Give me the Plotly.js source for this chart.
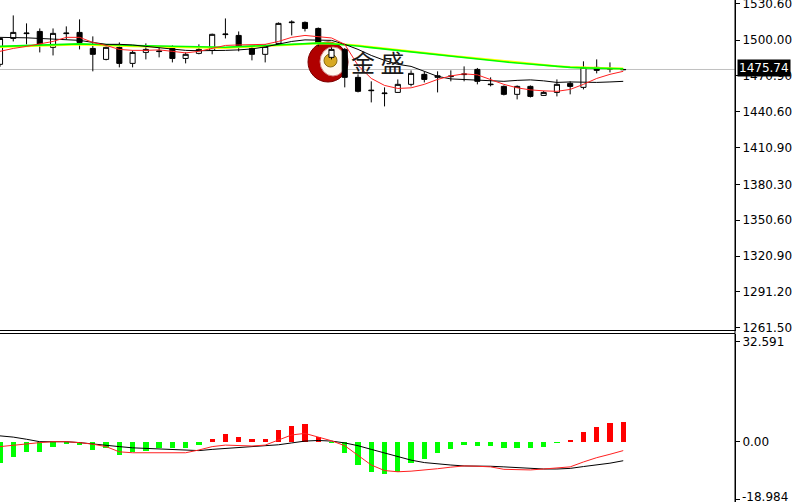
<!DOCTYPE html>
<html><head><meta charset="utf-8">
<script src="https://cdn.plot.ly/plotly-3.0.1.min.js"></script>
<style>html,body{margin:0;padding:0;background:#fff}#chart{width:795px;height:502px}</style>
</head><body><div id="chart"></div>
<script>
// ---- candles (bar 0 .. bar 47) ----
const openP  = [1480.0,1501.5,1505.5,1507.3,1494.1,1505.5,1506.5,1493.2,1484.1,1494.1,1480.8,1489.9,1490.6,1493.2,1484.9,1489.1,1491.6,1504.7,1504.0,1493.2,1488.3,1497.4,1514.6,1514.8,1509.8,1485.8,1492.4,1469.2,1458.6,1455.7,1456.7,1463.4,1471.7,1469.2,1469.8,1471.5,1475.8,1463.6,1461.7,1455.1,1461.7,1454.2,1456.7,1464.2,1460.9,1477.5,1476.0,1475.5];
const highP  = [1502.0,1520.6,1514.0,1509.8,1509.8,1511.5,1517.3,1503.2,1494.9,1498.2,1491.6,1497.4,1494.9,1495.7,1489.9,1496.6,1505.5,1518.1,1507.3,1494.9,1496.6,1514.8,1516.5,1515.6,1510.6,1494.1,1493.5,1471.7,1465.9,1460.9,1467.5,1475.0,1474.2,1474.2,1475.0,1478.3,1477.0,1469.2,1462.5,1462.5,1462.5,1458.0,1467.5,1465.9,1482.5,1484.1,1481.6,1476.2];
const lowP   = [1478.0,1499.0,1496.6,1489.9,1487.4,1500.7,1492.4,1474.2,1483.3,1477.5,1477.5,1484.1,1485.8,1481.6,1480.8,1488.3,1488.3,1501.5,1490.8,1483.3,1481.6,1496.6,1504.0,1507.3,1494.9,1484.1,1460.9,1456.7,1448.4,1445.1,1456.5,1461.7,1465.0,1456.7,1465.9,1465.9,1463.4,1461.7,1454.2,1450.9,1452.5,1454.0,1453.4,1455.1,1459.2,1472.5,1473.3,1475.2];
const closeP = [1501.5,1506.5,1505.9,1496.6,1505.7,1505.9,1498.2,1488.3,1494.1,1480.8,1489.9,1492.4,1491.0,1484.9,1488.3,1492.4,1504.9,1505.1,1494.9,1488.3,1494.9,1514.0,1515.0,1509.8,1497.4,1492.4,1469.2,1457.6,1458.2,1456.1,1463.4,1472.5,1467.5,1470.5,1470.2,1471.9,1465.9,1463.2,1455.1,1461.7,1453.4,1456.7,1463.4,1461.7,1477.5,1475.0,1476.6,1475.74];

// ---- moving averages on price panel ----
const maRed    = [1490.8,1493.2,1494.9,1497.0,1499.0,1502.4,1502.4,1498.2,1495.7,1492.4,1491.6,1491.6,1492.0,1490.8,1489.5,1490.8,1493.5,1495.7,1496.1,1496.1,1496.6,1499.0,1502.4,1504.0,1503.2,1501.9,1496.6,1479.1,1468.3,1462.5,1460.0,1460.5,1463.4,1467.5,1470.4,1472.1,1471.3,1467.5,1463.4,1460.5,1458.8,1458.0,1457.6,1459.2,1463.4,1468.3,1471.7,1474.2];
const maBlack  = [1502.4,1502.4,1502.0,1501.5,1501.1,1500.7,1499.9,1498.2,1496.6,1496.6,1496.1,1494.9,1493.7,1492.8,1491.6,1491.3,1491.3,1491.6,1492.0,1492.8,1494.5,1497.0,1499.0,1500.3,1500.3,1499.9,1496.6,1492.4,1487.4,1483.3,1480.0,1478.3,1474.2,1470.0,1467.9,1467.3,1467.3,1466.7,1465.9,1466.7,1467.1,1466.3,1465.0,1465.4,1465.0,1465.0,1465.4,1465.9];
const maGreen  = [1494.9,1495.3,1495.9,1496.3,1496.7,1497.1,1497.0,1496.7,1496.6,1496.1,1495.7,1495.5,1495.2,1494.9,1494.5,1494.2,1494.1,1494.2,1494.7,1495.1,1495.6,1496.1,1496.6,1497.1,1497.6,1497.1,1496.3,1495.2,1493.9,1492.7,1491.6,1490.3,1489.1,1487.6,1486.4,1485.3,1484.1,1483.1,1482.1,1481.1,1480.1,1479.1,1478.1,1477.5,1477.1,1476.8,1476.6,1476.4];
const maYellow = [1494.3,1494.7,1495.3,1495.7,1496.1,1496.5,1496.4,1496.1,1496.0,1495.5,1495.1,1494.9,1494.6,1494.3,1493.9,1493.6,1493.5,1493.6,1494.1,1494.5,1495.0,1495.6,1496.2,1496.9,1497.5,1497.2,1496.6,1495.6,1494.4,1493.3,1492.2,1491.0,1489.8,1488.3,1487.1,1486.0,1484.8,1483.8,1482.8,1481.8,1480.7,1479.6,1478.5,1477.8,1477.3,1477.0,1476.7,1476.5];

// ---- MACD panel ----
const macdHist = [-7.0,-4.9,-3.3,-3.3,-1.6,-0.8,-1.0,-2.7,-2.2,-4.3,-3.5,-2.9,-2.0,-2.2,-2.0,-1.1,1.0,2.5,1.5,0.8,1.0,3.8,5.1,5.7,1.5,-0.3,-3.8,-7.6,-9.8,-10.5,-9.8,-7.1,-5.7,-3.8,-2.5,-1.1,-1.4,-1.4,-2.2,-2.0,-2.2,-1.6,-0.4,0.5,3.3,4.9,6.0,6.3];
const macdRed  = [-1.6,-1.1,-0.6,-0.3,0.0,0.0,-0.3,-0.8,-1.6,-3.3,-3.6,-3.6,-3.6,-3.6,-3.6,-2.7,-1.6,-1.1,-1.2,-1.4,-1.1,0.5,2.2,2.7,1.5,0.3,-1.3,-4.3,-7.6,-9.4,-9.8,-9.6,-9.3,-8.8,-8.3,-7.9,-8.0,-8.2,-9.0,-9.2,-9.2,-8.9,-8.6,-8.2,-6.6,-5.2,-4.1,-2.9];
const macdBlack= [1.9,1.5,0.8,0.0,0.0,0.0,-0.3,-0.8,-1.2,-1.6,-2.0,-2.2,-2.5,-2.7,-2.9,-2.9,-2.5,-2.2,-1.9,-1.6,-1.3,-1.0,-0.4,0.2,0.4,0.2,-0.4,-1.3,-2.5,-3.6,-4.8,-6.0,-6.8,-7.3,-7.6,-7.9,-7.9,-8.0,-8.2,-8.5,-8.7,-8.9,-8.9,-8.7,-8.1,-7.6,-7.0,-6.2];

// ---- tick labels ----
const priceTicks = [1530.60,1500.00,1470.90,1440.60,1410.90,1380.30,1350.60,1320.90,1291.20,1261.50];
const priceTickText = ["1530.60","1500.00","1470.90","1440.60","1410.90","1380.30","1350.60","1320.90","1291.20","1261.50"];
const macdTicks = [32.591, 0, -18.984];
const macdTickText = ["32.591","0.00",""];
const macdBottomLabel = "-18.984";
const lastPriceText = "1475.74";
const logoText = "金 盛";

const bars = openP.map((_, i) => i);
const lastClose = closeP[closeP.length - 1];

const W = 795, H = 502, PW = 735;
const px = v => v / PW;          // plot-area x pixel -> paper
const py = v => 1 - v / H;       // page y pixel -> paper

const traces = [
  {type:'scatter', mode:'lines', x:bars, y:maYellow, line:{color:'#ffff00', width:2}, xaxis:'x', yaxis:'y', hoverinfo:'skip'},
  {type:'scatter', mode:'lines', x:bars, y:maGreen, line:{color:'#00ff00', width:1.6}, xaxis:'x', yaxis:'y', hoverinfo:'skip'},
  {type:'candlestick', x:bars, open:openP, high:highP, low:lowP, close:closeP, xaxis:'x', yaxis:'y',
    whiskerwidth:0,
    increasing:{line:{color:'#000', width:1}, fillcolor:'#ffffff'},
    decreasing:{line:{color:'#000', width:1}, fillcolor:'#000000'},
    hoverinfo:'skip'},
  {type:'scatter', mode:'lines', x:bars, y:maBlack, line:{color:'#000000', width:1}, xaxis:'x', yaxis:'y', hoverinfo:'skip'},
  {type:'scatter', mode:'lines', x:bars, y:maRed, line:{color:'#ff2020', width:1}, xaxis:'x', yaxis:'y', hoverinfo:'skip'},
  {type:'bar', x:bars, y:macdHist, width:0.4, xaxis:'x2', yaxis:'y2',
    marker:{color: macdHist.map(v => v >= 0 ? '#ff0000' : '#00ff00'), line:{width:0}}, hoverinfo:'skip'},
  {type:'scatter', mode:'lines', x:bars, y:macdBlack, line:{color:'#000000', width:1}, xaxis:'x2', yaxis:'y2', hoverinfo:'skip'},
  {type:'scatter', mode:'lines', x:bars, y:macdRed, line:{color:'#ff2020', width:1}, xaxis:'x2', yaxis:'y2', hoverinfo:'skip'}
];

const tickFont = {family:'DejaVu Sans, Verdana, sans-serif', size:12, color:'#000'};
const xRange = [0, PW / 13.26];

const layout = {
  width:W, height:H,
  margin:{l:0, r:W-PW, t:0, b:0, pad:0},
  paper_bgcolor:'#fff', plot_bgcolor:'#fff',
  showlegend:false,
  boxgap:0.45,
  bargap:0,
  xaxis:{domain:[0,1], range:xRange, showticklabels:false, showgrid:false, zeroline:false, showline:false, ticks:'', anchor:'y', rangeslider:{visible:false}, fixedrange:true},
  xaxis2:{domain:[0,1], range:xRange, showticklabels:false, showgrid:false, zeroline:false, showline:false, ticks:'', anchor:'y2', fixedrange:true},
  yaxis:{domain:[1-331/H, 1], range:[1258.7, 1533.4], side:'right', anchor:'x',
    tickmode:'array', tickvals:priceTicks, ticktext:priceTickText, ticks:'outside', ticklen:4, tickcolor:'#000',
    ticklabeloverflow:'allow',
    showline:true, linecolor:'#000', linewidth:1, showgrid:false, zeroline:false, tickfont:tickFont, fixedrange:true},
  yaxis2:{domain:[0, 168/H], range:[-19.65, 35.1], side:'right', anchor:'x2',
    tickmode:'array', tickvals:macdTicks, ticktext:macdTickText, ticks:'outside', ticklen:4, tickcolor:'#000',
    ticklabeloverflow:'allow',
    showline:true, linecolor:'#000', linewidth:1, showgrid:false, zeroline:false, tickfont:tickFont, fixedrange:true},
  shapes:[
    // current price line
    {type:'line', xref:'paper', yref:'y', x0:0, x1:1, y0:lastClose, y1:lastClose, line:{color:'#c0c0c0', width:1}, layer:'below'},
    // panel separators
    {type:'line', xref:'paper', yref:'paper', x0:0, x1:1, y0:py(330.5), y1:py(330.5), line:{color:'#000', width:1}},
    {type:'line', xref:'paper', yref:'paper', x0:0, x1:1, y0:py(333.5), y1:py(333.5), line:{color:'#000', width:1}},
    {type:'line', xref:'paper', yref:'paper', x0:1, x1:1, y0:0, y1:1, line:{color:'#000', width:1}},
    // logo
    {type:'circle', xref:'paper', yref:'paper', x0:px(308), x1:px(348), y0:py(82), y1:py(42), fillcolor:'#b00000', line:{color:'#7a0000', width:1}, layer:'below'},
    {type:'circle', xref:'paper', yref:'paper', x0:px(320), x1:px(346), y0:py(76), y1:py(47), fillcolor:'#fff8f0', line:{color:'#d08080', width:1}, layer:'below'},
    {type:'circle', xref:'paper', yref:'paper', x0:px(324), x1:px(337), y0:py(67), y1:py(54), fillcolor:'#d8a820', line:{color:'#8a6a10', width:1}, layer:'below'}
  ],
  annotations:[
    {xref:'paper', yref:'y', x:1, y:lastClose, xanchor:'left', yanchor:'middle', xshift:2, yshift:1,
      text:lastPriceText, showarrow:false, bgcolor:'#000', borderpad:1,
      font:{family:'DejaVu Sans, Verdana, sans-serif', size:12, color:'#fff'}},
    {xref:'paper', yref:'paper', x:1, y:py(497), xanchor:'left', yanchor:'middle', xshift:5,
      text:macdBottomLabel, showarrow:false, font:tickFont},
    {xref:'paper', yref:'paper', x:px(378), y:py(61), xanchor:'center', yanchor:'middle',
      text:logoText, showarrow:false,
      font:{family:'Noto Sans CJK SC, sans-serif', size:24, color:'#1a1a1a'}}
  ]
};

Plotly.newPlot('chart', traces, layout, {staticPlot:true, displayModeBar:false});
</script></body></html>
